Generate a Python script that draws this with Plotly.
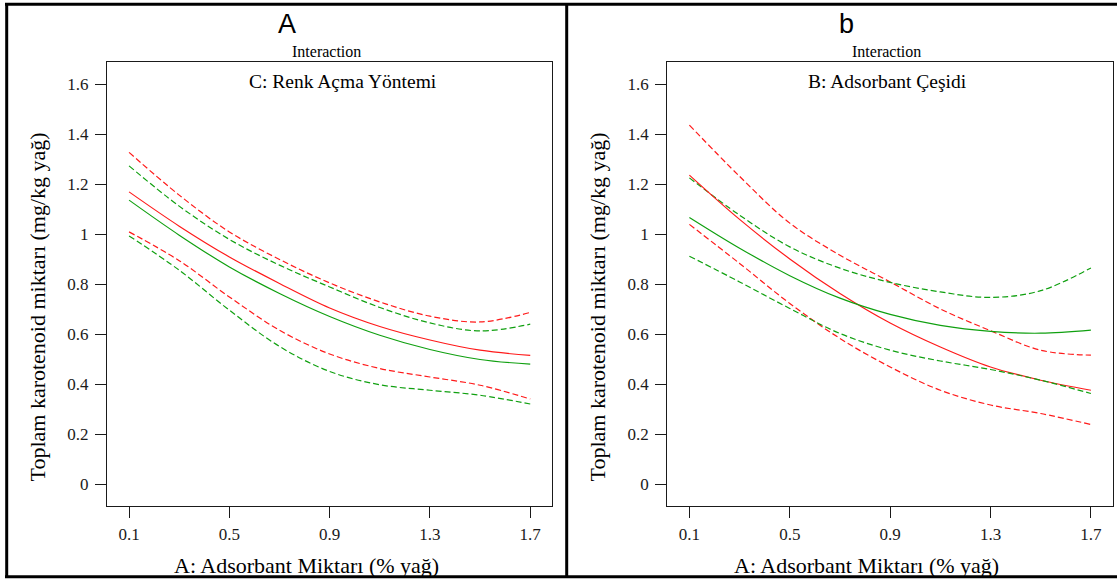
import plotly.graph_objects as go

# ---- data -------------------------------------------------------------
adsorbant = [0.1, 0.3, 0.5, 0.7, 0.9, 1.1, 1.3, 1.5, 1.7]

# Panel A: C (Renk Açma Yöntemi) – two levels, prediction and 95% band
a_red_mean = [1.170, 1.033, 0.910, 0.804, 0.706, 0.632, 0.578, 0.537, 0.516]
a_red_hi = [1.328, 1.157, 1.010, 0.900, 0.806, 0.730, 0.673, 0.650, 0.688]
a_red_lo = [1.010, 0.895, 0.750, 0.617, 0.522, 0.464, 0.430, 0.397, 0.342]
a_grn_mean = [1.137, 0.997, 0.870, 0.764, 0.672, 0.597, 0.540, 0.500, 0.481]
a_grn_hi = [1.274, 1.113, 0.980, 0.877, 0.790, 0.708, 0.646, 0.614, 0.641]
a_grn_lo = [0.994, 0.857, 0.697, 0.552, 0.452, 0.399, 0.377, 0.357, 0.322]

# Panel b: B (Adsorbant Çeşidi) – two levels, prediction and 95% band
b_red_mean = [1.237, 1.060, 0.902, 0.764, 0.646, 0.550, 0.470, 0.417, 0.377]
b_red_hi = [1.437, 1.232, 1.045, 0.917, 0.810, 0.702, 0.615, 0.537, 0.517]
b_red_lo = [1.040, 0.884, 0.724, 0.584, 0.470, 0.377, 0.318, 0.284, 0.240]
b_grn_mean = [1.068, 0.945, 0.835, 0.745, 0.680, 0.636, 0.612, 0.605, 0.617]
b_grn_hi = [1.226, 1.077, 0.950, 0.865, 0.808, 0.770, 0.748, 0.775, 0.866]
b_grn_lo = [0.913, 0.810, 0.704, 0.604, 0.537, 0.494, 0.460, 0.417, 0.364]

x_ticks = [0.1, 0.5, 0.9, 1.3, 1.7]
x_ticktext = ["0.1", "0.5", "0.9", "1.3", "1.7"]
y_ticks = [0, 0.2, 0.4, 0.6, 0.8, 1.0, 1.2, 1.4, 1.6]
y_ticktext = ["0", "0.2", "0.4", "0.6", "0.8", "1", "1.2", "1.4", "1.6"]

panel_letters = ["A", "b"]
panel_factors = ["C: Renk Açma Yöntemi", "B: Adsorbant Çeşidi"]
x_title = "A: Adsorbant Miktarı (% yağ)"
y_title = "Toplam karotenoid miktarı (mg/kg yağ)"

# ---- styling ----------------------------------------------------------
W, H = 1117, 580
RED = "#ff1a1a"
GREEN = "#10a010"
SERIF = "Liberation Serif"
SANS = "Liberation Sans"


def px(x):
    return x / W


def py(y):
    return 1 - y / H


fig = go.Figure()

panels = [
    ("x", "y", [(a_red_hi, RED, "6px,3px"), (a_grn_hi, GREEN, "6px,3px"),
                (a_red_mean, RED, "solid"), (a_grn_mean, GREEN, "solid"),
                (a_red_lo, RED, "6px,3px"), (a_grn_lo, GREEN, "6px,3px")]),
    ("x2", "y2", [(b_red_hi, RED, "6px,3px"), (b_grn_hi, GREEN, "6px,3px"),
                  (b_red_mean, RED, "solid"), (b_grn_mean, GREEN, "solid"),
                  (b_red_lo, RED, "6px,3px"), (b_grn_lo, GREEN, "6px,3px")]),
]

for xa, ya, series in panels:
    for vals, col, dash in series:
        fig.add_trace(go.Scatter(
            x=adsorbant, y=vals, xaxis=xa, yaxis=ya, mode="lines",
            line=dict(color=col, width=1.2, dash=dash, shape="spline", smoothing=1.0),
            showlegend=False, hoverinfo="skip"))

# plot-box placement in pixels: (left, right)
box_x = [(107, 552.3), (667.3, 1113)]
box_top, box_bottom = 62.3, 506.3

axis_common = dict(
    showline=True, mirror=True, linecolor="#1a1a1a", linewidth=1.3,
    showgrid=False, zeroline=False, ticks="outside", ticklen=11,
    tickwidth=1, tickcolor="#1a1a1a",
    tickfont=dict(family=SERIF, size=17, color="#1a1a1a"),
)

layout_axes = {}
for i, (l, r) in enumerate(box_x):
    sx = "" if i == 0 else str(i + 1)
    layout_axes["xaxis" + sx] = dict(
        axis_common, domain=[px(l), px(r)], range=[0.012, 1.788],
        tickvals=x_ticks, ticktext=x_ticktext, anchor="y" + sx,
        ticklabelstandoff=1)
    layout_axes["yaxis" + sx] = dict(
        axis_common, domain=[py(box_bottom), py(box_top)], range=[-0.087, 1.688],
        tickvals=y_ticks, ticktext=y_ticktext, anchor="x" + sx,
        ticklabelstandoff=3)

annotations = []
offsets = [0, 560]
for i, dx in enumerate(offsets):
    annotations += [
        dict(text=panel_letters[i], x=px(286.7 + dx), y=py(23.5),
             font=dict(family=SANS, size=27, color="black")),
        dict(text="Interaction", x=px(326.7 + dx), y=py(51.5),
             font=dict(family=SERIF, size=16, color="black")),
        dict(text=panel_factors[i], x=px((342.7 if i == 0 else 887.5 - 560) + dx), y=py(82),
             font=dict(family=SERIF, size=19.5, color="black")),
        dict(text=x_title, x=px(306.7 + dx), y=py(565),
             font=dict(family=SERIF, size=22, color="black")),
        dict(text=y_title, x=px(37 + dx), y=py(484), yanchor="bottom", textangle=-90,
             font=dict(family=SERIF, size=22, color="black")),
    ]
for a in annotations:
    a.update(xref="paper", yref="paper", showarrow=False)
    a.setdefault("xanchor", "center")
    a.setdefault("yanchor", "middle")

# outer panel frames
frame = dict(type="line", xref="paper", yref="paper", line=dict(color="black", width=3))
shapes = [
    dict(frame, x0=px(5), x1=1, y0=py(4.3), y1=py(4.3)),
    dict(frame, x0=px(5), x1=1, y0=py(576.7), y1=py(576.7)),
    dict(frame, x0=px(6.7), x1=px(6.7), y0=py(3), y1=py(578)),
    dict(frame, x0=px(566.7), x1=px(566.7), y0=py(3), y1=py(578)),
]

fig.update_layout(
    width=W, height=H, autosize=False,
    margin=dict(l=0, r=0, t=0, b=0, pad=0),
    paper_bgcolor="white", plot_bgcolor="white",
    annotations=annotations, shapes=shapes,
    **layout_axes,
)

fig.write_html("out.html")
